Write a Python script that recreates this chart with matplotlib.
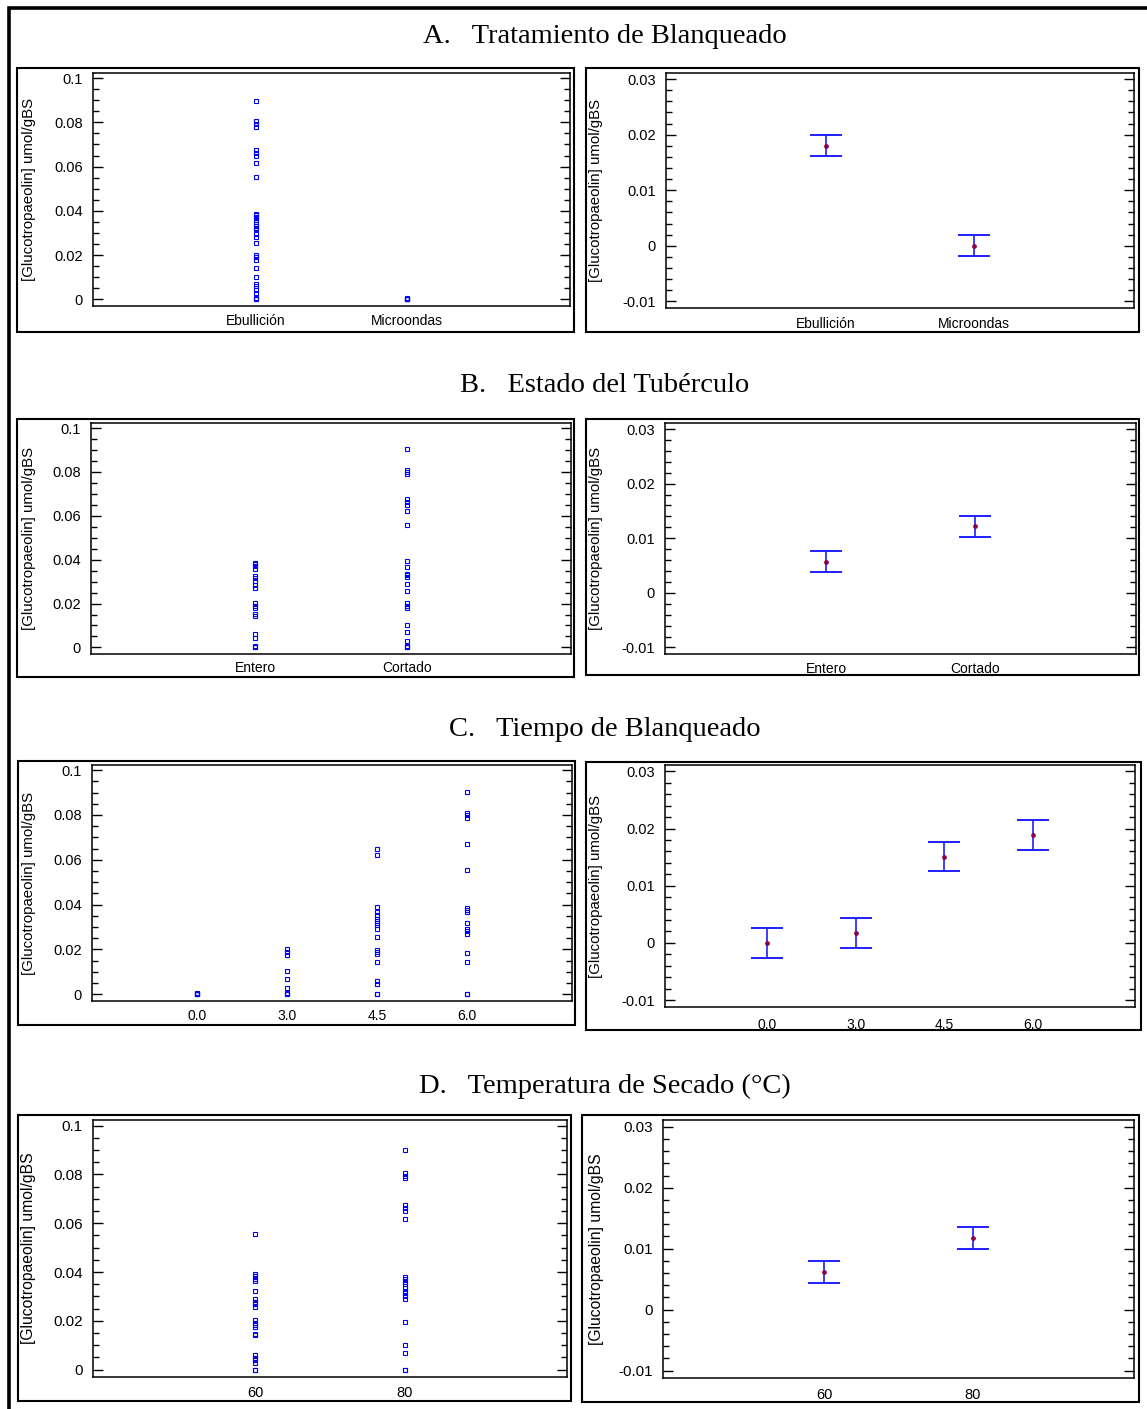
import numpy as np
import matplotlib
matplotlib.use('Agg')
import matplotlib.pyplot as plt
from matplotlib.patches import Rectangle
from matplotlib import font_manager
from matplotlib.ticker import FixedLocator, MultipleLocator

W, H = 1147, 1409

# ---------------- data ----------------
titles = ['A.   Tratamiento de Blanqueado', 'B.   Estado del Tubérculo',
          'C.   Tiempo de Blanqueado', 'D.   Temperatura de Secado (°C)']
ylabel = '[Glucotropaeolin] umol/gBS'

left_ticks = [0, 0.02, 0.04, 0.06, 0.08, 0.1]
left_ticklabels = ['0', '0.02', '0.04', '0.06', '0.08', '0.1']
right_ticks = [-0.01, 0, 0.01, 0.02, 0.03]
right_ticklabels = ['-0.01', '0', '0.01', '0.02', '0.03']

# A. Tratamiento de Blanqueado
A_cats = ['Ebullición', 'Microondas']
A_ebullicion = [0.0897, 0.0804, 0.0793, 0.0781, 0.0675, 0.0663, 0.0650, 0.0616, 0.0553,
                0.0388, 0.0379, 0.0370, 0.0358, 0.0350, 0.0332, 0.0323, 0.0316, 0.0296,
                0.0282, 0.0255, 0.0201, 0.0192, 0.0180, 0.0143, 0.0101, 0.0071, 0.0059,
                0.0044, 0.0030, 0.0005, 0.0, 0.0]
A_microondas = [0.0, 0.0, 0.0, 0.0, 0.0005, 0.0]
A_means = [0.0180, 0.0000]
A_halfw = [0.0019, 0.0019]

# B. Estado del Tubérculo
B_cats = ['Entero', 'Cortado']
B_entero = [0.0385, 0.0378, 0.0370, 0.0358, 0.0327, 0.0316, 0.0301, 0.0286, 0.0273,
            0.0201, 0.0190, 0.0181, 0.0152, 0.0144, 0.0060, 0.0045, 0.0005, 0.0, 0.0]
B_cortado = [0.0905, 0.0810, 0.0800, 0.0790, 0.0677, 0.0665, 0.0651, 0.0622, 0.0558,
             0.0392, 0.0366, 0.0336, 0.0329, 0.0321, 0.0290, 0.0258, 0.0204, 0.0190,
             0.0180, 0.0104, 0.0071, 0.0031, 0.0008, 0.0, 0.0]
B_means = [0.0057, 0.0122]
B_halfw = [0.0019, 0.0019]

# C. Tiempo de Blanqueado
C_cats = ['0.0', '3.0', '4.5', '6.0']
C_t00 = [0.0, 0.0, 0.0, 0.0005, 0.0]
C_t30 = [0.0203, 0.0188, 0.0176, 0.0102, 0.0067, 0.0027, 0.0005, 0.0, 0.0]
C_t45 = [0.0647, 0.0620, 0.0389, 0.0365, 0.0353, 0.0335, 0.0327, 0.0318, 0.0308,
         0.0293, 0.0256, 0.0199, 0.0188, 0.0178, 0.0143, 0.0058, 0.0046, 0.0, 0.0]
C_t60 = [0.0903, 0.0810, 0.0798, 0.0786, 0.0671, 0.0555, 0.0383, 0.0375, 0.0368,
         0.0320, 0.0290, 0.0283, 0.0271, 0.0182, 0.0146, 0.0, 0.0]
C_means = [0.0000, 0.0018, 0.0151, 0.0189]
C_halfw = [0.0026, 0.0026, 0.0026, 0.0026]

# D. Temperatura de Secado
D_cats = ['60', '80']
D_t60 = [0.0555, 0.0391, 0.0382, 0.0371, 0.0363, 0.0324, 0.0288, 0.0279, 0.0268,
         0.0255, 0.0203, 0.0192, 0.0183, 0.0176, 0.0148, 0.0141, 0.0059, 0.0049,
         0.0038, 0.0027, 0.0, 0.0]
D_t80 = [0.0902, 0.0806, 0.0795, 0.0784, 0.0673, 0.0661, 0.0650, 0.0618, 0.0379,
         0.0371, 0.0360, 0.0352, 0.0334, 0.0324, 0.0313, 0.0302, 0.0290, 0.0196,
         0.0103, 0.0069, 0.0, 0.0]
D_means = [0.0062, 0.0118]
D_halfw = [0.0018, 0.0018]

# ---------------- styling ----------------
names = {f.name for f in font_manager.fontManager.ttflist}
NARROW = 'Liberation Sans Narrow' if 'Liberation Sans Narrow' in names else 'Liberation Sans'
SANS = 'Liberation Sans'
SERIF = 'Liberation Serif'
NARROW_OK = NARROW == 'Liberation Sans Narrow'

BLUE = '#0000ff'
EBLUE = '#1f1fff'
DOT = '#8b0045'

fig = plt.figure(figsize=(W / 100, H / 100), dpi=100)
fig.patch.set_facecolor('white')


def fx(x):
    return x / W


def fy(y):
    return 1 - y / H


# outer page frame (left and top edges visible)
fig.add_artist(Rectangle((fx(9), fy(1440)), fx(1180 - 9), (1440 - 8) / H,
                         facecolor='none', edgecolor='black', lw=2.6, zorder=6))


def make_panel(box, axbox):
    bx0, by0, bx1, by1 = box
    fig.add_artist(Rectangle((fx(bx0), fy(by1)), (bx1 - bx0) / W, (by1 - by0) / H,
                             facecolor='white', edgecolor='none', zorder=-1))
    fig.add_artist(Rectangle((fx(bx0), fy(by1)), (bx1 - bx0) / W, (by1 - by0) / H,
                             facecolor='none', edgecolor='black', lw=1.5, zorder=6))
    x0, y0, x1, y1 = axbox
    ax = fig.add_axes([fx(x0), fy(y1), (x1 - x0) / W, (y1 - y0) / H])
    ax.set_facecolor('white')
    for s in ax.spines.values():
        s.set_linewidth(1.1)
    ax.tick_params(axis='y', which='both', direction='in', left=True, right=True,
                   width=1.0, pad=7.5)
    ax.tick_params(axis='y', which='major', length=7.2)
    ax.tick_params(axis='y', which='minor', length=4.0)
    ax.tick_params(axis='x', which='both', length=0)
    return ax


def finish_y(ax, kind, scale, label_x, axbox):
    if kind == 'left':
        ax.set_ylim(-0.003, 0.1023)
        ax.yaxis.set_major_locator(FixedLocator(left_ticks))
        ax.set_yticklabels(left_ticklabels)
        ax.yaxis.set_minor_locator(MultipleLocator(0.005))
    else:
        ax.set_ylim(-0.0112, 0.0311)
        ax.yaxis.set_major_locator(FixedLocator(right_ticks))
        ax.set_yticklabels(right_ticklabels)
        ax.yaxis.set_minor_locator(MultipleLocator(0.002))
    fs = (11.5 if NARROW_OK else 10.5) * scale
    for t in ax.get_yticklabels():
        t.set_fontfamily([NARROW, SANS])
        t.set_fontsize(fs)
    x0, y0, x1, y1 = axbox
    fig.text(fx(label_x), fy((y0 + y1) / 2), ylabel, rotation=90, ha='center',
             va='center', fontsize=10.8 * scale, family=[SANS])


def set_x(ax, cats, scale, pad):
    n = len(cats)
    pos = np.arange(1, n + 1)
    if n == 2:
        ax.set_xlim(-0.08, 3.08)
    else:
        ax.set_xlim(-0.16, 5.16)
    ax.set_xticks(pos)
    fs = (11.0 if NARROW_OK else 10.0) * scale
    ax.set_xticklabels(cats, fontsize=fs, family=[NARROW, SANS])
    ax.tick_params(axis='x', pad=pad)


def scatter_panel(ax, groups):
    for i, vals in enumerate(groups):
        ax.plot(np.full(len(vals), i + 1), vals, 's', mfc='none', mec=BLUE,
                ms=3.3, mew=0.8, zorder=3)


def means_panel(ax, means, halfw):
    pos = np.arange(1, len(means) + 1)
    ax.errorbar(pos, means, yerr=halfw, fmt='none', ecolor=EBLUE, elinewidth=1.2,
                capsize=11.5, capthick=1.4, zorder=3)
    ax.plot(pos, means, 'o', color=DOT, ms=2.4, zorder=4)


rows = [
    dict(title_y=43, cats=A_cats, groups=[A_ebullicion, A_microondas], means=A_means, hw=A_halfw,
         lbox=(17, 68, 574, 332), lax=(93, 73, 570, 306),
         rbox=(586, 68, 1139, 332), rax=(666, 73, 1134, 308), scale=1.0,
         lpad=5.5, rpad=6.5),
    dict(title_y=392, cats=B_cats, groups=[B_entero, B_cortado], means=B_means, hw=B_halfw,
         lbox=(17, 419, 574, 677), lax=(91, 423, 571, 654),
         rbox=(586, 419, 1139, 675), rax=(665, 423, 1136, 654), scale=1.0,
         lpad=5.0, rpad=5.5),
    dict(title_y=736, cats=C_cats, groups=[C_t00, C_t30, C_t45, C_t60], means=C_means, hw=C_halfw,
         lbox=(18, 761, 575, 1025), lax=(92, 765, 572, 1001),
         rbox=(586, 762, 1141, 1030), rax=(665, 765, 1135, 1007), scale=1.0,
         lpad=5.5, rpad=8.0),
    dict(title_y=1093, cats=D_cats, groups=[D_t60, D_t80], means=D_means, hw=D_halfw,
         lbox=(18, 1115, 571, 1401), lax=(93, 1120, 567, 1377),
         rbox=(582, 1115, 1139, 1402), rax=(663, 1120, 1134, 1378), scale=1.05,
         lpad=6.5, rpad=7.0),
]

for i, r in enumerate(rows):
    fig.text(fx(605), fy(r['title_y']), titles[i], ha='center', va='baseline',
             fontsize=20.5, family=[SERIF])
    s = r['scale']
    axl = make_panel(r['lbox'], r['lax'])
    scatter_panel(axl, r['groups'])
    set_x(axl, r['cats'], s, r['lpad'])
    finish_y(axl, 'left', s, 29, r['lax'])

    axr = make_panel(r['rbox'], r['rax'])
    means_panel(axr, r['means'], r['hw'])
    set_x(axr, r['cats'], s, r['rpad'])
    finish_y(axr, 'right', s, 596, r['rax'])

fig.savefig('out.png', dpi=100, facecolor='white')
